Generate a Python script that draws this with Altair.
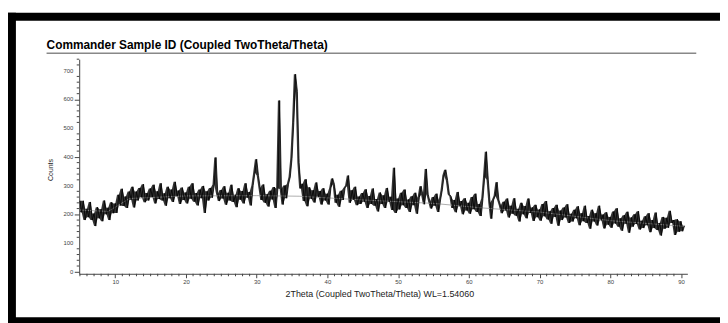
import altair as alt
import pandas as pd

# Measured pattern: counts at 0.25 deg steps from 5.0 to 90.5 (2Theta)
counts = [
    # 5.0 - 9.75
    247, 207, 247, 180, 219, 190, 243, 180, 203, 159, 225, 186, 218, 176, 248, 200, 223, 180, 242, 204,
    # 10.0 - 14.75
    238, 205, 268, 231, 289, 229, 262, 222, 279, 251, 296, 224, 279, 248, 292, 259, 305, 242, 274, 248,
    # 15.0 - 19.75
    290, 260, 303, 238, 280, 253, 308, 248, 273, 230, 296, 256, 286, 243, 313, 263, 283, 236, 293, 250,
    # 20.0 - 24.75
    276, 238, 296, 254, 308, 244, 274, 231, 286, 256, 299, 205, 280, 248, 292, 258, 304, 398, 272, 246,
    # 25.0 - 29.75
    285, 255, 298, 233, 275, 248, 303, 243, 268, 225, 291, 251, 281, 238, 308, 258, 278, 231, 300, 345,
    # 30.0 - 34.75
    392, 335, 292, 250, 304, 240, 270, 227, 282, 252, 295, 222, 290, 596, 288, 234, 300, 256, 305, 330,
    # 35.0 - 39.75
    395, 520, 688, 628, 380, 290, 306, 246, 322, 228, 294, 254, 284, 241, 311, 261, 281, 234, 291, 248,
    # 40.0 - 44.75
    272, 234, 292, 325, 304, 240, 268, 226, 282, 250, 292, 300, 335, 240, 284, 250, 296, 232, 262, 236,
    # 45.0 - 49.75
    274, 244, 287, 222, 264, 236, 290, 230, 253, 210, 276, 236, 266, 222, 292, 243, 261, 215, 362, 205,
    # 50.0 - 54.75
    255, 217, 275, 232, 286, 222, 252, 208, 263, 232, 275, 202, 258, 298, 268, 235, 358, 270, 244, 220,
    # 55.0 - 59.75
    260, 230, 272, 208, 250, 285, 335, 355, 318, 270, 262, 222, 250, 207, 278, 228, 246, 200, 256, 213,
    # 60.0 - 64.75
    240, 202, 260, 218, 272, 208, 236, 194, 255, 330, 418, 320, 240, 185, 250, 265, 312, 250, 230, 204,
    # 65.0 - 69.75
    244, 213, 255, 189, 230, 202, 256, 195, 219, 175, 240, 200, 229, 186, 255, 205, 224, 177, 233, 190,
    # 70.0 - 74.75
    217, 178, 236, 193, 246, 182, 211, 167, 222, 191, 233, 160, 213, 180, 224, 189, 235, 170, 202, 175,
    # 75.0 - 79.75
    216, 186, 228, 162, 204, 176, 230, 170, 194, 150, 216, 175, 204, 161, 230, 179, 199, 151, 207, 164,
    # 80.0 - 84.75
    191, 153, 210, 168, 221, 157, 186, 143, 197, 167, 209, 136, 189, 157, 200, 166, 211, 147, 178, 152,
    # 85.0 - 90.5
    193, 162, 204, 138, 180, 152, 206, 145, 170, 126, 191, 150, 188, 153, 212, 170, 180, 128, 183, 139,
    176, 141, 160,
]
two_theta = [round(5.0 + 0.25 * i, 2) for i in range(len(counts))]

# Fitted background (thin grey line visible under the peaks)
bg_theta = [5.0, 9.0, 12.0, 20.0, 30.0, 36.0, 45.0, 55.0, 62.0, 70.0, 80.0, 90.5]
bg_counts = [215, 210, 255, 264, 265, 263, 250, 238, 222, 208, 178, 158]

title_text = "Commander Sample ID (Coupled TwoTheta/Theta)"
x_title = "2Theta (Coupled TwoTheta/Theta) WL=1.54060"
y_title = "Counts"

x_major = [10, 20, 30, 40, 50, 60, 70, 80, 90]
x_minor = [v for v in range(5, 91) if v % 10 != 0]
y_major = [0, 100, 200, 300, 400, 500, 600, 700]
y_minor = [v for v in range(20, 741, 20) if v % 100 != 0]

FONT = "Liberation Sans"

df = pd.DataFrame({"two_theta": two_theta, "counts": counts})
bg = pd.DataFrame({"two_theta": bg_theta, "counts": bg_counts})
one = pd.DataFrame({"k": [0]})

xscale = alt.Scale(domain=[4.9, 90.9], nice=False, zero=False)
yscale = alt.Scale(domain=[-7, 740], nice=False, zero=False)

x_axis = alt.Axis(
    values=x_major, tickSize=4, labelOverlap=False, labelFontSize=6, labelColor="#444",
    labelFont=FONT, labelPadding=1, tickColor="#444", domainColor="#444", grid=False,
    title=None, labelFlush=False,
)
y_axis = alt.Axis(
    values=y_major, tickSize=5, labels=False, tickColor="#444", domainColor="#444",
    grid=False, title=None,
)

# noise band: spread between neighbouring readings
band = alt.Chart(df).transform_window(
    lo="min(counts)", hi="max(counts)", frame=[0, 1], sort=[alt.SortField("two_theta")]
).mark_area(color="#111111", fillOpacity=0.85, interpolate="linear").encode(
    x=alt.X("two_theta:Q", scale=xscale, axis=x_axis),
    y=alt.Y("lo:Q", scale=yscale, axis=y_axis),
    y2=alt.Y2("hi:Q"),
)

main = alt.Chart(df).mark_line(color="black", strokeWidth=0.8).encode(
    x=alt.X("two_theta:Q", scale=xscale),
    y=alt.Y("counts:Q", scale=yscale),
)
bgline = alt.Chart(bg).mark_line(color="#999", strokeWidth=0.8).encode(
    x=alt.X("two_theta:Q", scale=xscale),
    y=alt.Y("counts:Q", scale=yscale),
)

xminor = alt.Chart(pd.DataFrame({"v": x_minor})).mark_rule(color="#444", strokeWidth=1).encode(
    x=alt.X("v:Q", scale=xscale), y=alt.value(217), y2=alt.value(219.5))
yminor = alt.Chart(pd.DataFrame({"v": y_minor})).mark_rule(color="#444", strokeWidth=1).encode(
    y=alt.Y("v:Q", scale=yscale), x=alt.value(-2.5), x2=alt.value(0))
ylabels = alt.Chart(pd.DataFrame({"v": y_major})).mark_text(
    font=FONT, fontSize=6, color="#444", align="right", baseline="middle"
).encode(y=alt.Y("v:Q", scale=yscale), x=alt.value(-6), text="v:Q")

frame_left = alt.Chart(one).mark_rect(color="black").encode(
    x=alt.value(-72), x2=alt.value(-64), y=alt.value(-47), y2=alt.value(270))
frame_top = alt.Chart(one).mark_rect(color="black").encode(
    x=alt.value(-72), x2=alt.value(660), y=alt.value(-47), y2=alt.value(-39))
frame_bottom = alt.Chart(one).mark_rect(color="black").encode(
    x=alt.value(-72), x2=alt.value(660), y=alt.value(261), y2=alt.value(270))

underline = alt.Chart(one).mark_rule(color="#888", strokeWidth=1.5).encode(
    x=alt.value(-33), x2=alt.value(624), y=alt.value(-6))

title = alt.Chart(pd.DataFrame({"t": [title_text]})).mark_text(
    font=FONT, fontSize=12, fontWeight="bold", align="left", baseline="alphabetic", color="black"
).encode(text="t:N", x=alt.value(-33), y=alt.value(-10))

xt = alt.Chart(pd.DataFrame({"t": [x_title]})).mark_text(
    font=FONT, fontSize=9, align="center", baseline="middle", color="#222"
).encode(text="t:N", x=alt.value(304), y=alt.value(237))

yt = alt.Chart(pd.DataFrame({"t": [y_title]})).mark_text(
    font=FONT, fontSize=7, align="center", baseline="middle", angle=270, color="#222"
).encode(text="t:N", x=alt.value(-28), y=alt.value(112))

chart = alt.layer(
    frame_left, frame_top, frame_bottom, underline, xminor, yminor, ylabels,
    band, bgline, main, title, xt, yt
).properties(
    width=615, height=217,
    padding={"left": 72, "top": 50, "right": 33, "bottom": 48},
    autosize=alt.AutoSizeParams(type="none"),
    background="white",
).configure_view(stroke=None)

chart.save("out.html", embed_options={"renderer": "svg", "actions": False})
